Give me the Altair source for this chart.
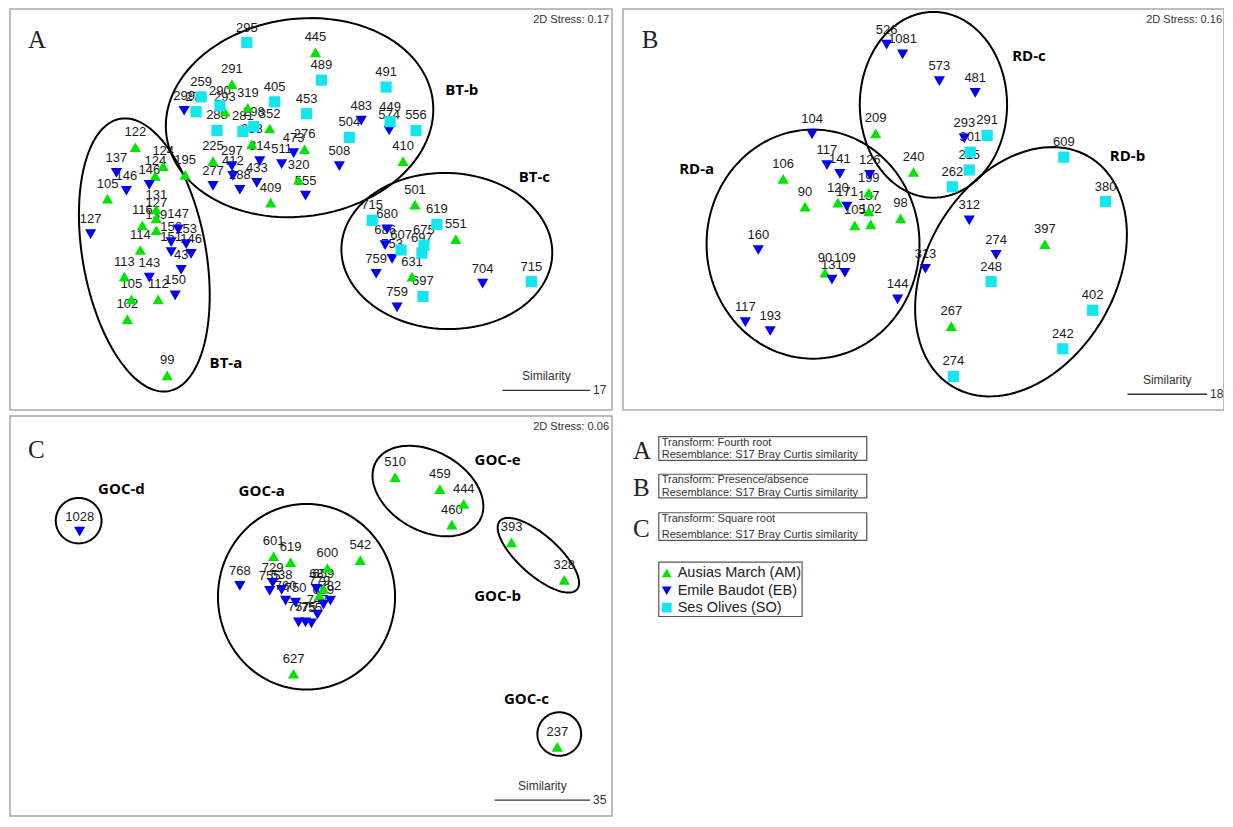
import altair as alt
import pandas as pd
import numpy as np

# ---------------- Panel A (Fourth root) ----------------
a_am_lab = ["445", "291", "319", "293", "352", "338", "276", "225", "195", "409", "320", "410", "501", "551", "631",
            "122", "124", "124", "105", "131", "127", "139", "116", "114", "113", "105", "112", "102", "99"]
a_am_x = [317, 233, 249, 226, 271, 253, 306, 214, 186, 272, 300, 405, 417, 458, 414,
          136, 164, 156, 108, 157, 157, 157, 143, 141, 125, 132, 159, 128, 168]
a_am_y = [53, 85, 109, 113, 130, 146, 151, 163, 177, 205, 182, 163, 207, 242, 280,
          149, 168, 178, 201, 212, 221, 233, 228, 253, 280, 303, 303, 323, 380]

a_eb_lab = ["299", "314", "511", "473", "297", "412", "277", "288", "433", "555", "483", "574", "508",
            "137", "146", "146", "127", "147", "156", "153", "151", "146", "43", "150", "143",
            "759", "759", "753", "686", "680", "704"]
a_eb_x = [185, 261, 283, 295, 233, 234, 214, 241, 258, 307, 363, 391, 341,
          117, 127, 150, 91, 179, 172, 187, 172, 192, 182, 176, 150,
          399, 378, 394, 387, 389, 485]
a_eb_y = [112, 163, 166, 155, 168, 178, 188, 192, 185, 198, 122, 132, 168,
          175, 193, 187, 237, 232, 245, 247, 255, 257, 273, 299, 281,
          311, 277, 262, 248, 232, 287]

a_so_lab = ["295", "489", "491", "259", "275", "290", "405", "453", "298", "288", "281", "449", "504", "556",
            "715", "619", "675", "697", "607", "697", "715"]
a_so_x = [248, 323, 388, 202, 197, 221, 276, 308, 255, 218, 244, 392, 351, 418,
          374, 439, 426, 424, 403, 425, 534]
a_so_y = [43, 81, 88, 98, 113, 107, 103, 115, 128, 132, 133, 123, 139, 132,
          223, 227, 248, 256, 253, 300, 285]

# ---------------- Panel B (Presence/absence) ----------------
b_am_lab = ["209", "106", "90", "120", "240", "199", "137", "98", "105", "102", "90", "267", "397"]
b_am_x = [880, 787, 809, 842, 918, 873, 873, 905, 859, 875, 829, 956, 1050]
b_am_y = [135, 181, 209, 205, 174, 195, 214, 221, 228, 227, 276, 330, 247]

b_eb_lab = ["526", "1081", "573", "481", "293", "104", "117", "141", "126", "171", "160", "109", "131",
            "144", "117", "193", "313", "312", "274"]
b_eb_x = [891, 907, 944, 980, 969, 816, 831, 844, 874, 851, 762, 849, 836,
          902, 749, 774, 930, 974, 1001]
b_eb_y = [45, 55, 82, 94, 140, 136, 167, 176, 177, 209, 253, 276, 283,
          303, 326, 335, 272, 223, 258]

b_so_lab = ["291", "301", "215", "262", "609", "380", "248", "402", "242", "274"]
b_so_x = [992, 975, 974, 957, 1069, 1111, 996, 1098, 1068, 958]
b_so_y = [137, 154, 172, 189, 159, 204, 285, 314, 353, 381]

# ---------------- Panel C (Square root) ----------------
c_am_lab = ["601", "619", "600", "542", "659", "779", "627", "510", "459", "444", "460", "393", "328", "237"]
c_am_x = [275, 292, 329, 362, 325, 321, 295, 397, 442, 466, 454, 514, 567, 560]
c_am_y = [563, 569, 575, 567, 596, 603, 682, 483, 495, 510, 531, 549, 587, 756]

c_eb_lab = ["1028", "768", "729", "755", "538", "760", "750", "757", "775", "755", "747", "68", "782", "659"]
c_eb_x = [80, 241, 274, 271, 283, 287, 297, 300, 307, 313, 319, 318, 332, 325]
c_eb_y = [538, 593, 590, 598, 597, 608, 610, 630, 630, 631, 622, 596, 608, 612]

# ---------------- Group ellipses ----------------
ell_name = ["BT-a", "BT-b", "BT-c", "RD-a", "RD-b", "RD-c", "GOC-a", "GOC-b", "GOC-c", "GOC-d", "GOC-e"]
ell_cx = [145, 301, 449, 817, 1026, 938, 308, 541, 562, 79, 430]
ell_cy = [258, 119, 254, 247, 275, 106, 604, 562, 743, 527, 497]
ell_a = [140, 135, 106, 107, 135, 74, 89, 52, 22, 23, 60]
ell_b = [62, 100, 79, 116, 95, 94, 94, 20, 22, 23, 40]
ell_phi = [80, -8, 2, 0, -60, 0, 0, 42, 0, 0, 30]

grp_lab = ["BT-a", "BT-b", "BT-c", "RD-a", "RD-b", "RD-c", "GOC-d", "GOC-a", "GOC-e", "GOC-b", "GOC-c"]
grp_x = [227, 464, 537, 700, 1133, 1034, 122, 263, 500, 500, 529]
grp_y = [367, 91, 179, 171, 158, 57, 495, 497, 466, 603, 708]

# ---------------- Panel furniture ----------------
panel_letter = ["A", "B", "C"]
panel_lx = [28, 645, 28]
panel_ly = [40, 40, 455]
frame_x1 = [10, 626, 10]
frame_x2 = [615, 1230, 615]
frame_y1 = [9, 9, 421]
frame_y2 = [415, 415, 826]
stress_txt = ["2D Stress: 0.17", "2D Stress: 0.16", "2D Stress: 0.06"]
stress_x = [612, 1228, 612]
stress_y = [20, 20, 432]
sim_val = ["17", "18", "35"]
sim_x1 = [505, 1133, 497]
sim_x2 = [593, 1213, 593]
sim_y = [395, 399, 810]

info_letter = ["A", "B", "C"]
info_line1 = ["Transform: Fourth root", "Transform: Presence/absence", "Transform: Square root"]
info_line2 = ["Resemblance: S17 Bray Curtis similarity"] * 3
info_y1 = [442, 480, 519]
info_y2 = [466, 504, 547]

leg_names = ["Ausias March (AM)", "Emile Baudot (EB)", "Ses Olives (SO)"]
leg_sites = ["AM", "EB", "SO"]
leg_y = [580, 598, 615]

# ---------------- Build tables ----------------
rows = []
for labs, xs_, ys_, site in [
    (a_am_lab, a_am_x, a_am_y, "AM"), (a_eb_lab, a_eb_x, a_eb_y, "EB"), (a_so_lab, a_so_x, a_so_y, "SO"),
    (b_am_lab, b_am_x, b_am_y, "AM"), (b_eb_lab, b_eb_x, b_eb_y, "EB"), (b_so_lab, b_so_x, b_so_y, "SO"),
    (c_am_lab, c_am_x, c_am_y, "AM"), (c_eb_lab, c_eb_x, c_eb_y, "EB"),
]:
    for l, x, y in zip(labs, xs_, ys_):
        rows.append({"x": x, "y": y, "label": l, "site": site})
pts = pd.DataFrame(rows)

erows = []
t = np.linspace(0, 2 * np.pi, 121)
for n, cx, cy, a, b, ph in zip(ell_name, ell_cx, ell_cy, ell_a, ell_b, ell_phi):
    p = np.deg2rad(ph)
    ex = cx + a * np.cos(t) * np.cos(p) - b * np.sin(t) * np.sin(p)
    ey = cy + a * np.cos(t) * np.sin(p) + b * np.sin(t) * np.cos(p)
    for i, (xx, yy) in enumerate(zip(ex, ey)):
        erows.append({"g": n, "i": i, "x": xx, "y": yy})
ells = pd.DataFrame(erows)

xs = alt.Scale(domain=[8, 1230], nice=False, zero=False)
ys = alt.Scale(domain=[8, 828], nice=False, zero=False, reverse=True)


def X(f="x"):
    return alt.X(f"{f}:Q", scale=xs, axis=None)


def Y(f="y"):
    return alt.Y(f"{f}:Q", scale=ys, axis=None)


color_scale = alt.Scale(domain=["AM", "EB", "SO"], range=["#00e400", "#0000f5", "#14e6f0"])
shape_scale = alt.Scale(domain=["AM", "EB", "SO"], range=["triangle-up", "triangle-down", "square"])
size_scale = alt.Scale(domain=["AM", "EB", "SO"], range=[125, 125, 100])

frames = pd.DataFrame({"x": frame_x1, "x2": frame_x2, "y": frame_y1, "y2": frame_y2})
frame_layer = alt.Chart(frames).mark_rect(fillOpacity=0, stroke="#a8a8a8", strokeWidth=1.5).encode(
    x=X(), x2="x2:Q", y=Y(), y2="y2:Q")

ell_layer = alt.Chart(ells).mark_line(color="black", strokeWidth=2).encode(
    x=X(), y=Y(), detail="g:N", order="i:Q")

lab_layer = alt.Chart(pts).mark_text(font="Liberation Sans", fontSize=13, color="#1a1a1a", dy=-15,
                                     baseline="middle").encode(x=X(), y=Y(), text="label:N")

pt_layer = alt.Chart(pts).mark_point(filled=True, opacity=1).encode(
    x=X(), y=Y(),
    color=alt.Color("site:N", scale=color_scale, legend=None),
    shape=alt.Shape("site:N", scale=shape_scale, legend=None),
    size=alt.Size("site:N", scale=size_scale, legend=None))

grp = pd.DataFrame({"x": grp_x, "y": grp_y, "t": grp_lab})
grp_layer = alt.Chart(grp).mark_text(font="Open Sans", fontWeight="bold", fontSize=15, color="black",
                                     baseline="middle").encode(x=X(), y=Y(), text="t:N")

letters = pd.DataFrame({"x": panel_lx, "y": panel_ly, "t": panel_letter})
letter_layer = alt.Chart(letters).mark_text(font="Liberation Serif", fontSize=25, color="#222",
                                            baseline="middle", align="left").encode(x=X(), y=Y(), text="t:N")

stress = pd.DataFrame({"x": stress_x, "y": stress_y, "t": stress_txt})
stress_layer = alt.Chart(stress).mark_text(font="Liberation Sans", fontSize=11, color="#333",
                                           align="right", baseline="middle").encode(x=X(), y=Y(), text="t:N")

sim = pd.DataFrame({"x": sim_x1, "x2": sim_x2, "y": sim_y, "v": sim_val,
                    "xm": [(a + b) / 2 for a, b in zip(sim_x1, sim_x2)],
                    "yt": [v - 14 for v in sim_y], "xv": [b + 3 for b in sim_x2]})
sim_rule = alt.Chart(sim).mark_rule(color="#333", strokeWidth=1.3).encode(x=X(), x2="x2:Q", y=Y())
sim_word = alt.Chart(sim).mark_text(font="Liberation Sans", fontSize=12, color="#333",
                                    baseline="middle", text="Similarity").encode(x=X("xm"), y=Y("yt"))
sim_num = alt.Chart(sim).mark_text(font="Liberation Sans", fontSize=12, color="#333",
                                   baseline="middle", align="left").encode(x=X("xv"), y=Y(), text="v:N")

info = pd.DataFrame({"l": info_letter, "t1": info_line1, "t2": info_line2, "y": info_y1, "y2": info_y2,
                     "x": [662] * 3, "x2": [871] * 3, "xt": [665] * 3, "xl": [636] * 3,
                     "ya": [v + 6 for v in info_y1], "yb": [v - 5 for v in info_y2],
                     "ym": [(a + b) / 2 + 2 for a, b in zip(info_y1, info_y2)]})
info_box = alt.Chart(info).mark_rect(fillOpacity=0, stroke="#555", strokeWidth=1.2).encode(
    x=X(), x2="x2:Q", y=Y(), y2="y2:Q")
info_t1 = alt.Chart(info).mark_text(font="Liberation Sans", fontSize=11, color="#333", align="left",
                                    baseline="middle").encode(x=X("xt"), y=Y("ya"), text="t1:N")
info_t2 = alt.Chart(info).mark_text(font="Liberation Sans", fontSize=11, color="#333", align="left",
                                    baseline="middle").encode(x=X("xt"), y=Y("yb"), text="t2:N")
info_l = alt.Chart(info).mark_text(font="Liberation Serif", fontSize=25, color="#222", align="left",
                                   baseline="middle").encode(x=X("xl"), y=Y("ym"), text="l:N")

leg = pd.DataFrame({"site": leg_sites, "name": leg_names, "y": leg_y,
                    "x": [670] * 3, "xt": [681] * 3})
leg_box = alt.Chart(pd.DataFrame({"x": [662], "x2": [806], "y": [569], "y2": [624]})).mark_rect(
    fillOpacity=0, stroke="#555", strokeWidth=1.2).encode(x=X(), x2="x2:Q", y=Y(), y2="y2:Q")
leg_pts = alt.Chart(leg).mark_point(filled=True, opacity=1).encode(
    x=X(), y=Y(),
    color=alt.Color("site:N", scale=color_scale, legend=None),
    shape=alt.Shape("site:N", scale=shape_scale, legend=None),
    size=alt.Size("site:N", scale=alt.Scale(domain=["AM", "EB", "SO"], range=[95, 95, 80]), legend=None))
leg_txt = alt.Chart(leg).mark_text(font="Liberation Sans", fontSize=14.5, color="#222", align="left",
                                   baseline="middle").encode(x=X("xt"), y=Y(), text="name:N")

chart = alt.layer(
    frame_layer, ell_layer, sim_rule, lab_layer, pt_layer, grp_layer, letter_layer, stress_layer,
    sim_word, sim_num, info_box, info_t1, info_t2, info_l, leg_box, leg_pts, leg_txt
).resolve_scale(size="independent").properties(
    width=1216, height=810, padding=0, autosize=alt.AutoSizeParams(type="none")).configure_view(
    stroke=None)

chart.save("out.html", embed_options={"renderer": "svg", "actions": False})
